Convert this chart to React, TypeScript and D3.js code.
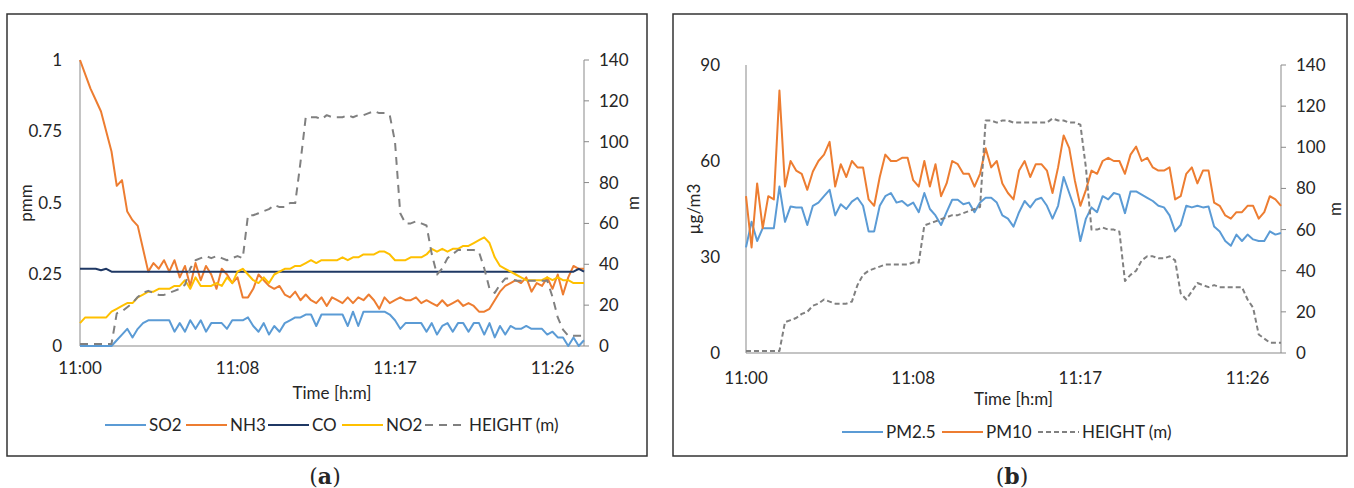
import * as d3 from 'd3'

const timeLabels = ['11:00', '11:08', '11:17', '11:26']
const timeTickIdx = [0, 30, 60, 90]

// panel (a), ppm
const so2 = [0, 0, 0, 0, 0, 0, 0, 0.02, 0.04, 0.06, 0.03, 0.06, 0.08, 0.09, 0.09, 0.09, 0.09, 0.09, 0.05, 0.08,
  0.05, 0.09, 0.06, 0.09, 0.05, 0.08, 0.08, 0.08, 0.06, 0.09, 0.09, 0.09, 0.1, 0.07, 0.05, 0.08, 0.04, 0.07, 0.05, 0.08,
  0.09, 0.1, 0.1, 0.11, 0.11, 0.07, 0.11, 0.11, 0.11, 0.11, 0.11, 0.07, 0.12, 0.07, 0.12, 0.12, 0.12, 0.12, 0.12, 0.11,
  0.09, 0.06, 0.08, 0.08, 0.08, 0.08, 0.05, 0.08, 0.04, 0.07, 0.08, 0.05, 0.08, 0.08, 0.05, 0.08, 0.08, 0.04, 0.08, 0.03,
  0.07, 0.04, 0.07, 0.06, 0.06, 0.07, 0.06, 0.06, 0.06, 0.04, 0.05, 0.03, 0.03, 0, 0.03, 0, 0.02]
const nh3 = [1.0, 0.95, 0.9, 0.86, 0.82, 0.75, 0.68, 0.56, 0.58, 0.47, 0.44, 0.42, 0.34, 0.26, 0.29, 0.27, 0.3, 0.26, 0.3, 0.24,
  0.28, 0.21, 0.29, 0.23, 0.28, 0.25, 0.2, 0.27, 0.25, 0.22, 0.24, 0.17, 0.17, 0.2, 0.25, 0.23, 0.21, 0.2, 0.21, 0.18,
  0.17, 0.19, 0.16, 0.18, 0.16, 0.15, 0.17, 0.14, 0.17, 0.16, 0.15, 0.17, 0.15, 0.17, 0.16, 0.18, 0.16, 0.13, 0.17, 0.15,
  0.16, 0.17, 0.16, 0.16, 0.17, 0.15, 0.16, 0.15, 0.14, 0.16, 0.14, 0.15, 0.16, 0.14, 0.15, 0.14, 0.12, 0.12, 0.13, 0.16,
  0.19, 0.21, 0.22, 0.23, 0.22, 0.24, 0.19, 0.22, 0.21, 0.24, 0.2, 0.25, 0.18, 0.24, 0.28, 0.27, 0.27]
const co = [0.27, 0.27, 0.27, 0.27, 0.265, 0.27, 0.26, 0.26, 0.26, 0.26, 0.26, 0.26, 0.26, 0.26, 0.26, 0.26, 0.26, 0.26, 0.26, 0.26,
  0.26, 0.26, 0.26, 0.26, 0.26, 0.26, 0.26, 0.26, 0.26, 0.26, 0.26, 0.26, 0.26, 0.26, 0.26, 0.26, 0.26, 0.26, 0.26, 0.26,
  0.26, 0.26, 0.26, 0.26, 0.26, 0.26, 0.26, 0.26, 0.26, 0.26, 0.26, 0.26, 0.26, 0.26, 0.26, 0.26, 0.26, 0.26, 0.26, 0.26,
  0.26, 0.26, 0.26, 0.26, 0.26, 0.26, 0.26, 0.26, 0.26, 0.26, 0.26, 0.26, 0.26, 0.26, 0.26, 0.26, 0.26, 0.26, 0.26, 0.26,
  0.26, 0.26, 0.26, 0.26, 0.26, 0.26, 0.26, 0.26, 0.26, 0.26, 0.26, 0.26, 0.26, 0.26, 0.26, 0.27, 0.26]
const no2 = [0.08, 0.1, 0.1, 0.1, 0.1, 0.1, 0.12, 0.13, 0.14, 0.15, 0.15, 0.17, 0.18, 0.19, 0.19, 0.2, 0.2, 0.2, 0.21, 0.21,
  0.23, 0.2, 0.24, 0.21, 0.21, 0.21, 0.22, 0.21, 0.24, 0.22, 0.26, 0.27, 0.25, 0.23, 0.22, 0.24, 0.22, 0.25, 0.26, 0.27,
  0.27, 0.28, 0.28, 0.29, 0.3, 0.29, 0.3, 0.3, 0.3, 0.3, 0.31, 0.3, 0.31, 0.31, 0.32, 0.32, 0.32, 0.33, 0.33, 0.32,
  0.3, 0.3, 0.3, 0.31, 0.31, 0.31, 0.32, 0.34, 0.33, 0.34, 0.33, 0.34, 0.34, 0.35, 0.35, 0.36, 0.37, 0.38, 0.36, 0.31,
  0.28, 0.27, 0.26, 0.25, 0.24, 0.23, 0.23, 0.23, 0.23, 0.24, 0.23, 0.24, 0.23, 0.23, 0.22, 0.22, 0.22]
const heightA = [1, 1, 1, 1, 1, 1, 1, 16, 17, 19, 21, 24, 26, 27, 26, 25, 25, 26, 27, 28,
  30, 38, 42, 43, 44, 43, 44, 43, 42, 43, 44, 43, 64, 64, 65, 66, 67, 69, 68, 68,
  70, 70, 90, 112, 112, 112, 111, 113, 112, 112, 112, 113, 112, 113, 113, 114, 115, 114, 114, 113,
  100, 65, 60, 60, 61, 60, 59, 45, 35, 38, 43, 45, 47, 47, 47, 47, 46, 38, 28, 26,
  30, 33, 33, 32, 32, 32, 32, 32, 32, 32, 24, 14, 8, 5, 5, 5, 5]

// panel (b), µg/m3
const pm25 = [33, 41, 35, 39, 39, 39, 52, 41, 45.8, 45.5, 45.5, 40, 46, 47, 49, 51, 43, 46.5, 45, 47.3,
  48.5, 46, 38, 38, 46, 49, 50, 47, 47.5, 46, 47, 44, 50, 45, 43, 40, 44, 47.9, 47.9, 46.5,
  47, 44, 47, 48.5, 48.5, 47, 43, 42, 39.5, 44, 47.5, 45.5, 47.9, 48.5, 46, 42, 46, 55, 50, 45,
  35, 42, 45.5, 44, 49, 48, 50, 49.5, 43.7, 50.5, 50.5, 49.5, 48.5, 47.5, 46, 45.5, 43, 38, 40, 46,
  45.5, 46, 45.5, 45.8, 39.5, 38, 35, 33.5, 37, 35, 37, 35.5, 35, 35, 38, 37, 37.5]
const pm10 = [49, 33, 53, 39, 49, 48, 82, 52, 60, 57, 56, 51, 56.7, 60, 62, 66, 52, 59, 55, 60,
  58, 58, 48, 46, 55, 62, 60, 60, 61, 61, 54, 52, 60, 52, 59, 49, 53, 60, 59, 56,
  56, 52, 56, 64, 58, 60, 53, 50, 48, 57, 60, 55, 59, 59, 57, 50, 58, 68, 64, 54,
  46, 51, 57, 56, 60, 61, 60, 60, 56, 62, 64.5, 60, 61, 58, 57, 57, 58, 48, 49, 56,
  58, 53, 57, 57, 47, 46, 43, 42, 44, 44, 46, 46, 42, 44, 49, 48, 46]
const heightB = [1, 1, 1, 1, 1, 1, 1, 15, 16, 17, 19, 20, 23, 24, 26, 25, 24, 24, 24, 25,
  33, 38, 40, 41, 42, 43, 43, 43, 43, 43, 44, 44, 62, 63, 64, 65, 66, 67, 67, 68,
  69, 70, 71, 113, 113, 112, 113, 113, 112, 112, 112, 112, 112, 112, 112, 114, 113, 113, 112, 112,
  111, 90, 60, 60, 61, 60, 60, 59, 35, 38, 40, 45, 47, 47, 46, 46, 47, 45, 29, 26,
  30, 34, 33, 32, 33, 32, 32, 32, 32, 32, 26, 22, 9, 7, 5, 5, 5]

const FONT = 'Lato, "Open Sans", sans-serif'
const FS = 17
const AXIS = '#898989'
const C = {
  blue: '#5B9BD5',
  orange: '#ED7D31',
  navy: '#1F3864',
  yellow: '#FFC000',
  gray: '#808080',
}

type Series = {name: string; values: number[]; color: string; right?: boolean; dash?: string}

type PanelProps = {
  frame: [number, number, number, number]
  plot: {x0: number; x1: number; top: number; bottom: number}
  leftMax: number
  leftTicks: number[]
  leftGap: number
  leftTitle: string
  leftTitleX: number
  rightTitleX: number
  tickY: number
  timeY: number
  series: Series[]
  legendY: number
  legendX: number[]
  letter: string
  letterX: number
}

function Panel(p: PanelProps) {
  const n = p.series[0].values.length
  const x = d3.scaleLinear().domain([0, n - 1]).range([p.plot.x0, p.plot.x1])
  const yL = d3.scaleLinear().domain([0, p.leftMax]).range([p.plot.bottom, p.plot.top])
  const yR = d3.scaleLinear().domain([0, 140]).range([p.plot.bottom, p.plot.top])
  const rightTicks = d3.range(0, 141, 20)
  const [fx, fy, fw, fh] = p.frame
  const midY = (p.plot.top + p.plot.bottom) / 2
  const midX = (p.plot.x0 + p.plot.x1) / 2

  return (
    <g fontFamily={FONT} fill="#262626">
      <rect x={fx} y={fy} width={fw} height={fh} fill="none" stroke="#333" strokeWidth={1.5} />

      {/* axes */}
      <line x1={p.plot.x0} x2={p.plot.x0} y1={p.plot.top} y2={p.plot.bottom} stroke={AXIS} />
      <line x1={p.plot.x1} x2={p.plot.x1} y1={p.plot.top} y2={p.plot.bottom} stroke={AXIS} />
      <line x1={p.plot.x0} x2={p.plot.x1} y1={p.plot.bottom} y2={p.plot.bottom} stroke={AXIS} />

      {p.leftTicks.map(t => (
        <text key={'l' + t} x={p.plot.x0 - p.leftGap} y={yL(t)} dy="0.35em" textAnchor="end" fontSize={FS}>
          {String(t)}
        </text>
      ))}
      {rightTicks.map(t => (
        <g key={'r' + t}>
          <line x1={p.plot.x1} x2={p.plot.x1 + 5} y1={yR(t)} y2={yR(t)} stroke={AXIS} />
          <text x={p.plot.x1 + 15} y={yR(t)} dy="0.35em" fontSize={FS}>{t}</text>
        </g>
      ))}
      {timeTickIdx.map((t, i) => (
        <text key={'t' + t} x={x(t)} y={p.tickY} dy="0.35em" textAnchor="middle" fontSize={FS}>
          {timeLabels[i]}
        </text>
      ))}

      <text x={midX} y={p.timeY} dy="0.35em" textAnchor="middle" fontSize={FS}>Time [h:m]</text>
      <text transform={`translate(${p.leftTitleX},${midY}) rotate(-90)`} textAnchor="middle" dy="0.35em" fontSize={FS}>
        {p.leftTitle}
      </text>
      <text transform={`translate(${p.rightTitleX},${midY}) rotate(-90)`} textAnchor="middle" dy="0.35em" fontSize={FS}>
        m
      </text>

      {p.series.map(s => {
        const y = s.right ? yR : yL
        const path = d3.line<number>().x((_, i) => x(i)).y(v => y(v))(s.values) ?? undefined
        return (
          <path key={s.name} d={path} fill="none" stroke={s.color} strokeWidth={2}
            strokeDasharray={s.dash} strokeLinejoin="round" />
        )
      })}

      {p.series.map((s, i) => (
        <g key={'lg' + s.name} transform={`translate(${p.legendX[i]},${p.legendY})`}>
          <line x1={0} x2={41} y1={0} y2={0} stroke={s.color} strokeWidth={2} strokeDasharray={s.dash} />
          <text x={44} y={0} dy="0.35em" fontSize={FS}>{s.name}</text>
        </g>
      ))}

      <text x={p.letterX} y={476} dy="0.35em" textAnchor="middle" fontSize={22}
        fontFamily='"DejaVu Serif", "Liberation Serif", serif'>
        (<tspan fontWeight="bold">{p.letter}</tspan>)
      </text>
    </g>
  )
}

export default function App() {
  return (
    <svg width={1354} height={488} style={{position: 'absolute', left: 0, top: 0, background: '#fff'}}>
      <rect width={1354} height={488} fill="#fff" />
      <Panel
        frame={[7, 14, 640, 442]}
        plot={{x0: 80, x1: 584, top: 60, bottom: 346}}
        leftMax={1}
        leftTicks={[0, 0.25, 0.5, 0.75, 1]}
        leftGap={18}
        leftTitle="pmm"
        leftTitleX={26}
        rightTitleX={633}
        tickY={368}
        timeY={393}
        series={[
          {name: 'SO2', values: so2, color: C.blue},
          {name: 'NH3', values: nh3, color: C.orange},
          {name: 'CO', values: co, color: C.navy},
          {name: 'NO2', values: no2, color: C.yellow},
          {name: 'HEIGHT (m)', values: heightA, color: C.gray, right: true, dash: '8 6'},
        ]}
        legendY={425}
        legendX={[105, 186, 268, 342, 425]}
        letter="a"
        letterX={325}
      />
      <Panel
        frame={[673, 14, 674, 442]}
        plot={{x0: 746, x1: 1281, top: 65, bottom: 353}}
        leftMax={90}
        leftTicks={[0, 30, 60, 90]}
        leftGap={26}
        leftTitle="µg/m3"
        leftTitleX={694}
        rightTitleX={1335}
        tickY={378}
        timeY={399}
        series={[
          {name: 'PM2.5', values: pm25, color: C.blue},
          {name: 'PM10', values: pm10, color: C.orange},
          {name: 'HEIGHT (m)', values: heightB, color: C.gray, right: true, dash: '5 3'},
        ]}
        legendY={432}
        legendX={[842, 942, 1038]}
        letter="b"
        letterX={1012}
      />
    </svg>
  )
}
